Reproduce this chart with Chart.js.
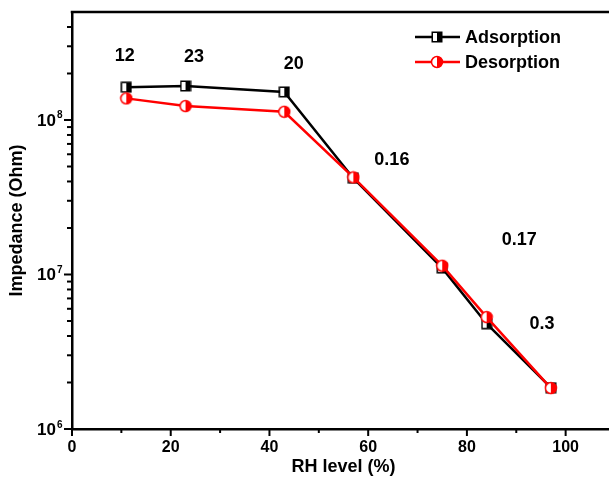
<!DOCTYPE html>
<html><head><meta charset="utf-8">
<script src="https://cdn.jsdelivr.net/npm/chart.js@4.4.1/dist/chart.umd.min.js"></script>
<style>html,body{margin:0;padding:0;overflow:hidden;background:#fff;width:609px;height:481px}canvas{display:block}</style>
</head><body>
<canvas id="c" width="630" height="481"></canvas>
<script>
// ---- data ----
const rhLevels = [11, 23, 43, 57, 75, 84, 97];
const adsorption = [1.63e8, 1.66e8, 1.52e8, 4.2e7, 1.10e7, 4.8e6, 1.85e6];
const desorption = [1.38e8, 1.23e8, 1.13e8, 4.25e7, 1.14e7, 5.3e6, 1.84e6];
const responseLabels = ['12', '23', '20', '0.16', '0.17', '0.3'];
const xTickValues = [0, 20, 40, 60, 80, 100];
const yTickExponents = [6, 7, 8];
const seriesNames = ['Adsorption', 'Desorption'];

// label anchors in data space (RH %, Ohm)
const labelAnchorX = [10.7, 24.7, 44.9, 64.8, 90.6, 95.2];
const labelAnchorY = [2.59e8, 2.55e8, 2.30e8, 5.52e7, 1.68e7, 4.76e6];

const FONT = '"Liberation Sans", Arial, sans-serif';
Chart.defaults.font.family = FONT;
Chart.defaults.color = '#000';

function squareMarker() {
  const c = document.createElement('canvas'); c.width = 12; c.height = 12;
  const g = c.getContext('2d');
  g.fillStyle = '#fff'; g.fillRect(1, 1, 10, 10);
  g.fillStyle = '#000'; g.fillRect(6, 1, 5, 10);
  g.strokeStyle = '#000'; g.lineWidth = 1.5; g.strokeRect(1.25, 1.25, 9.5, 9.5);
  return c;
}
function circleMarker() {
  const c = document.createElement('canvas'); c.width = 14; c.height = 14;
  const g = c.getContext('2d');
  g.beginPath(); g.arc(7, 7, 5.5, 0, Math.PI * 2); g.fillStyle = '#fff'; g.fill();
  g.beginPath(); g.moveTo(7, 1.5); g.arc(7, 7, 5.5, -Math.PI / 2, Math.PI / 2); g.closePath(); g.fillStyle = '#ff0000'; g.fill();
  g.beginPath(); g.arc(7, 7, 5.5, 0, Math.PI * 2); g.strokeStyle = '#ff0000'; g.lineWidth = 1.5; g.stroke();
  return c;
}
const markers = [squareMarker(), circleMarker()];
const colors = ['#000000', '#ff0000'];

const decor = {
  id: 'decor',
  afterDraw(chart) {
    const ctx = chart.ctx, xs = chart.scales.x, ys = chart.scales.y, a = chart.chartArea;
    ctx.save();
    ctx.strokeStyle = '#000';
    // top frame line
    ctx.lineWidth = 2.5;
    ctx.beginPath(); ctx.moveTo(a.left - 1.25, a.top); ctx.lineTo(chart.width, a.top); ctx.stroke();
    // x ticks
    ctx.lineWidth = 2;
    xTickValues.forEach((v, i) => {
      const px = xs.getPixelForValue(v);
      ctx.beginPath(); ctx.moveTo(px, a.bottom); ctx.lineTo(px, a.bottom + 7); ctx.stroke();
      if (i < xTickValues.length - 1) {
        const mx = xs.getPixelForValue((v + xTickValues[i + 1]) / 2);
        ctx.beginPath(); ctx.moveTo(mx, a.bottom); ctx.lineTo(mx, a.bottom + 4); ctx.stroke();
      }
    });
    // y ticks
    yTickExponents.forEach(e => {
      const py = ys.getPixelForValue(Math.pow(10, e));
      ctx.beginPath(); ctx.moveTo(a.left, py); ctx.lineTo(a.left - 8, py); ctx.stroke();
      for (let m = 2; m <= 9; m++) {
        const v = m * Math.pow(10, e);
        if (v >= ys.max) break;
        const my = ys.getPixelForValue(v);
        ctx.beginPath(); ctx.moveTo(a.left, my); ctx.lineTo(a.left - 5, my); ctx.stroke();
      }
    });
    // y tick labels 10^n
    ctx.fillStyle = '#000';
    yTickExponents.forEach(e => {
      const py = ys.getPixelForValue(Math.pow(10, e));
      ctx.font = 'bold 17px ' + FONT; ctx.textAlign = 'right'; ctx.textBaseline = 'alphabetic';
      ctx.fillText('10', a.left - 16, py + 6);
      ctx.font = 'bold 10px ' + FONT; ctx.textAlign = 'left';
      ctx.fillText(String(e), a.left - 15, py - 1.5);
    });
    // response labels
    ctx.font = 'bold 18px ' + FONT; ctx.textAlign = 'center'; ctx.textBaseline = 'middle';
    responseLabels.forEach((t, i) => {
      ctx.fillText(t, xs.getPixelForValue(labelAnchorX[i]), ys.getPixelForValue(labelAnchorY[i]));
    });
    // legend
    seriesNames.forEach((name, i) => {
      const ly = 37 + i * 25;
      ctx.strokeStyle = colors[i]; ctx.lineWidth = 2.5;
      ctx.beginPath(); ctx.moveTo(415, ly); ctx.lineTo(460, ly); ctx.stroke();
      const mk = markers[i];
      ctx.drawImage(mk, 437 - mk.width / 2, ly - mk.height / 2);
      ctx.fillStyle = '#000'; ctx.font = 'bold 18px ' + FONT; ctx.textAlign = 'left'; ctx.textBaseline = 'middle';
      ctx.fillText(name, 465, ly + 1);
    });
    ctx.restore();
  }
};

new Chart(document.getElementById('c'), {
  type: 'line',
  data: {
    datasets: [
      { label: seriesNames[1], data: rhLevels.map((x, i) => ({ x, y: desorption[i] })), borderColor: colors[1], backgroundColor: colors[1], borderWidth: 2.5, pointStyle: markers[1], pointRadius: 6, tension: 0, order: 0 },
      { label: seriesNames[0], data: rhLevels.map((x, i) => ({ x, y: adsorption[i] })), borderColor: colors[0], backgroundColor: colors[0], borderWidth: 2.5, pointStyle: markers[0], pointRadius: 6, tension: 0, order: 1 }
    ]
  },
  options: {
    responsive: false,
    animation: false,
    devicePixelRatio: 1,
    layout: { padding: { top: 12, left: 0, right: 15, bottom: 0 } },
    plugins: { legend: { display: false }, tooltip: { enabled: false } },
    scales: {
      x: {
        type: 'linear', min: 0, max: 110,
        afterBuildTicks: s => { s.ticks = xTickValues.map(v => ({ value: v })); },
        afterFit: s => { s.height = 52; },
        ticks: { font: { size: 16, weight: 'bold' }, color: '#000', padding: 9, maxRotation: 0, autoSkip: false },
        grid: { display: false, drawTicks: false },
        border: { display: true, color: '#000', width: 2.5 },
        title: { display: true, text: 'RH level (%)', font: { size: 18, weight: 'bold' }, color: '#000', padding: { top: 0, bottom: 3 } }
      },
      y: {
        type: 'logarithmic', min: 1e6, max: 5e8,
        afterFit: s => { s.width = 72; },
        ticks: { display: false },
        grid: { display: false, drawTicks: false },
        border: { display: true, color: '#000', width: 2.5 },
        title: { display: true, text: 'Impedance (Ohm)', font: { size: 18, weight: 'bold' }, color: '#000', padding: { top: 6, bottom: 0 } }
      }
    }
  },
  plugins: [decor]
});
</script>
</body></html>
